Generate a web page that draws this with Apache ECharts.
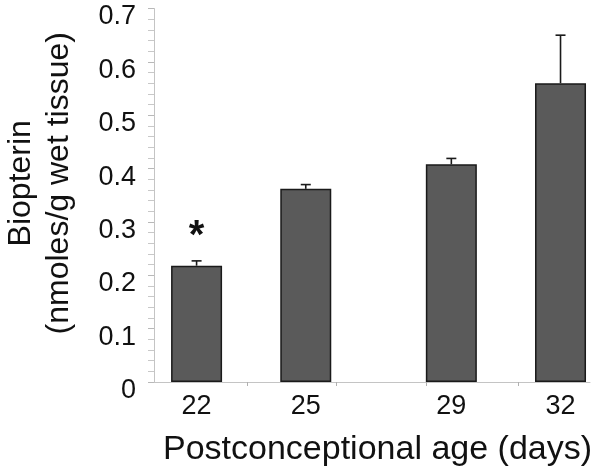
<!DOCTYPE html>
<html>
<head>
<meta charset="utf-8">
<script src="https://cdn.jsdelivr.net/npm/echarts@6/dist/echarts.min.js"></script>
<style>
html,body{margin:0;padding:0;background:#fff;}
#chart{width:601px;height:476px;}
</style>
</head>
<body>
<div id="chart"></div>
<script>
// Data
var days = [22, 25, 29, 32];
var biopterin = [0.218, 0.362, 0.408, 0.560];
var sem = [0.009, 0.008, 0.011, 0.090];
var significance = ['*', '', '', ''];
var xTickValues = [23.4, 25.85, 28.3, 30.85];

var FONT = '"Liberation Sans", Arial, Helvetica, sans-serif';
var barData = days.map(function (d, i) { return [d, biopterin[i]]; });
var errData = days.map(function (d, i) { return [d, biopterin[i], biopterin[i] + sem[i]]; });

var chart = echarts.init(document.getElementById('chart'), null, {renderer: 'canvas'});
chart.setOption({
  animation: false,
  backgroundColor: '#ffffff',
  grid: {left: 154, right: 11, top: 8.5, bottom: 94, outerBoundsMode: 'none', containLabel: false},
  xAxis: {
    type: 'value',
    min: 20.83,
    max: 32.81,
    name: 'Postconceptional age (days)',
    nameLocation: 'middle',
    nameGap: 51,
    nameTextStyle: {fontFamily: FONT, fontSize: 34, color: '#111', padding: [0, 0, 0, 11]},
    axisLine: {show: true, lineStyle: {color: '#c4c4c4', width: 1}},
    axisTick: {show: true, customValues: xTickValues, length: 4, lineStyle: {color: '#b0b0b0'}},
    axisLabel: {show: true, customValues: days, margin: 11, fontFamily: FONT, fontSize: 27, color: '#111'},
    splitLine: {show: false}
  },
  yAxis: {
    type: 'value',
    min: 0,
    max: 0.7,
    interval: 0.1,
    name: 'Biopterin\n(nmoles/g wet tissue)',
    nameLocation: 'middle',
    nameGap: 76,
    nameTextStyle: {fontFamily: FONT, fontSize: 32, lineHeight: 38, color: '#111', padding: [0, 0, 0, 24]},
    axisLine: {show: true, lineStyle: {color: '#c4c4c4', width: 1}},
    axisTick: {show: true, length: 6, lineStyle: {color: '#b8b8b8'}},
    minorTick: {show: true, splitNumber: 5, length: 6, lineStyle: {color: '#c8c8c8'}},
    axisLabel: {
      margin: 18, fontFamily: FONT, fontSize: 27, color: '#111',
      verticalAlign: 'top', lineHeight: 17,
      formatter: function (v) { return String(Math.round(v * 10) / 10); }
    },
    splitLine: {show: false}
  },
  series: [
    {
      type: 'bar',
      data: barData,
      barWidth: 51,
      itemStyle: {color: '#5a5a5a', borderColor: '#1a1a1a', borderWidth: 1.5},
      label: {
        show: true, position: 'top', distance: 9,
        fontFamily: FONT, fontSize: 40, fontWeight: 'bold', color: '#111',
        formatter: function (p) { return significance[p.dataIndex]; }
      },
      z: 2
    },
    {
      type: 'custom',
      data: errData,
      z: 3,
      renderItem: function (params, api) {
        var x = api.value(0);
        var lo = api.coord([x, api.value(1)]);
        var hi = api.coord([x, api.value(2)]);
        var half = 5;
        var style = {stroke: '#1a1a1a', lineWidth: 1.6};
        return {
          type: 'group',
          children: [
            {type: 'line', shape: {x1: lo[0], y1: lo[1], x2: hi[0], y2: hi[1]}, style: style},
            {type: 'line', shape: {x1: hi[0] - half, y1: hi[1], x2: hi[0] + half, y2: hi[1]}, style: style}
          ]
        };
      }
    }
  ]
});
</script>
</body>
</html>
